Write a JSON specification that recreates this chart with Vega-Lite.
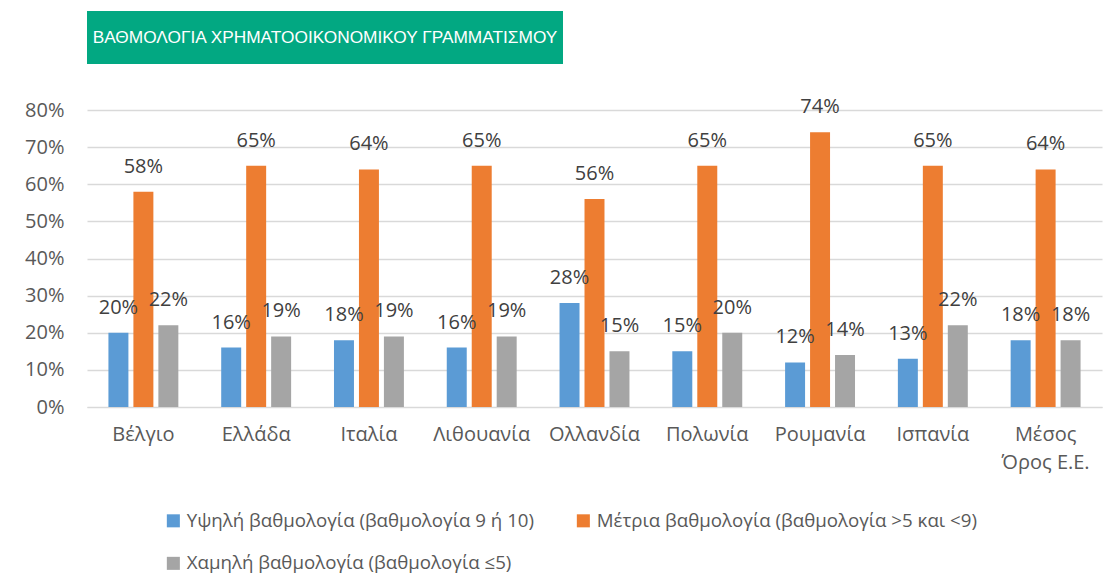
{
  "$schema": "https://vega.github.io/schema/vega-lite/v6.json",
  "background": "white",
  "padding": {"left": 24, "top": 11, "right": 10, "bottom": 5},
  "config": {"view": {"stroke": null}, "font": "Open Sans"},
  "bounds": "flush",
  "spacing": 46,
  "vconcat": [
    {
      "width": 476,
      "height": 53,
      "view": {"fill": "#02a882", "stroke": null},
      "data": {"values": [{"t": "ΒΑΘΜΟΛΟΓΙΑ ΧΡΗΜΑΤΟΟΙΚΟΝΟΜΙΚΟΥ ΓΡΑΜΜΑΤΙΣΜΟΥ"}]},
      "mark": {"type": "text", "color": "white", "fontSize": 17.3, "font": "Liberation Sans", "align": "center", "baseline": "middle"},
      "encoding": {"text": {"field": "t", "type": "nominal"}}
    },
    {
      "width": 1015,
      "height": 297,
      "data": {
        "values": [
          {"country": "Βέλγιο", "cat": "Υψηλή βαθμολογία (βαθμολογία 9 ή 10)", "value": 0.20},
          {"country": "Βέλγιο", "cat": "Μέτρια βαθμολογία (βαθμολογία >5 και <9)", "value": 0.58},
          {"country": "Βέλγιο", "cat": "Χαμηλή βαθμολογία (βαθμολογία ≤5)", "value": 0.22},
          {"country": "Ελλάδα", "cat": "Υψηλή βαθμολογία (βαθμολογία 9 ή 10)", "value": 0.16},
          {"country": "Ελλάδα", "cat": "Μέτρια βαθμολογία (βαθμολογία >5 και <9)", "value": 0.65},
          {"country": "Ελλάδα", "cat": "Χαμηλή βαθμολογία (βαθμολογία ≤5)", "value": 0.19},
          {"country": "Ιταλία", "cat": "Υψηλή βαθμολογία (βαθμολογία 9 ή 10)", "value": 0.18},
          {"country": "Ιταλία", "cat": "Μέτρια βαθμολογία (βαθμολογία >5 και <9)", "value": 0.64},
          {"country": "Ιταλία", "cat": "Χαμηλή βαθμολογία (βαθμολογία ≤5)", "value": 0.19},
          {"country": "Λιθουανία", "cat": "Υψηλή βαθμολογία (βαθμολογία 9 ή 10)", "value": 0.16},
          {"country": "Λιθουανία", "cat": "Μέτρια βαθμολογία (βαθμολογία >5 και <9)", "value": 0.65},
          {"country": "Λιθουανία", "cat": "Χαμηλή βαθμολογία (βαθμολογία ≤5)", "value": 0.19},
          {"country": "Ολλανδία", "cat": "Υψηλή βαθμολογία (βαθμολογία 9 ή 10)", "value": 0.28},
          {"country": "Ολλανδία", "cat": "Μέτρια βαθμολογία (βαθμολογία >5 και <9)", "value": 0.56},
          {"country": "Ολλανδία", "cat": "Χαμηλή βαθμολογία (βαθμολογία ≤5)", "value": 0.15},
          {"country": "Πολωνία", "cat": "Υψηλή βαθμολογία (βαθμολογία 9 ή 10)", "value": 0.15},
          {"country": "Πολωνία", "cat": "Μέτρια βαθμολογία (βαθμολογία >5 και <9)", "value": 0.65},
          {"country": "Πολωνία", "cat": "Χαμηλή βαθμολογία (βαθμολογία ≤5)", "value": 0.20},
          {"country": "Ρουμανία", "cat": "Υψηλή βαθμολογία (βαθμολογία 9 ή 10)", "value": 0.12},
          {"country": "Ρουμανία", "cat": "Μέτρια βαθμολογία (βαθμολογία >5 και <9)", "value": 0.74},
          {"country": "Ρουμανία", "cat": "Χαμηλή βαθμολογία (βαθμολογία ≤5)", "value": 0.14},
          {"country": "Ισπανία", "cat": "Υψηλή βαθμολογία (βαθμολογία 9 ή 10)", "value": 0.13},
          {"country": "Ισπανία", "cat": "Μέτρια βαθμολογία (βαθμολογία >5 και <9)", "value": 0.65},
          {"country": "Ισπανία", "cat": "Χαμηλή βαθμολογία (βαθμολογία ≤5)", "value": 0.22},
          {"country": "Μέσος Όρος Ε.Ε.", "cat": "Υψηλή βαθμολογία (βαθμολογία 9 ή 10)", "value": 0.18},
          {"country": "Μέσος Όρος Ε.Ε.", "cat": "Μέτρια βαθμολογία (βαθμολογία >5 και <9)", "value": 0.64},
          {"country": "Μέσος Όρος Ε.Ε.", "cat": "Χαμηλή βαθμολογία (βαθμολογία ≤5)", "value": 0.18}
        ]
      },
      "encoding": {
        "x": {
          "field": "country", "type": "nominal", "sort": null,
          "scale": {"paddingInner": 0.38, "paddingOuter": 0.19},
          "axis": {
            "title": null, "labelAngle": 0, "ticks": false, "domain": true, "domainColor": "#d9d9d9",
            "labelFontSize": 20, "labelColor": "#595959", "labelPadding": 17, "labelLineHeight": 28,
            "labelExpr": "datum.value == 'Μέσος Όρος Ε.Ε.' ? ['Μέσος', 'Όρος Ε.Ε.'] : datum.value"
          }
        },
        "xOffset": {
          "field": "cat", "type": "nominal",
          "sort": ["Υψηλή βαθμολογία (βαθμολογία 9 ή 10)", "Μέτρια βαθμολογία (βαθμολογία >5 και <9)", "Χαμηλή βαθμολογία (βαθμολογία ≤5)"],
          "scale": {"paddingInner": 0.2, "paddingOuter": 0}
        },
        "y": {
          "field": "value", "type": "quantitative",
          "scale": {"domain": [0, 0.8], "nice": false},
          "axis": {
            "title": null, "format": ".0%", "values": [0, 0.1, 0.2, 0.3, 0.4, 0.5, 0.6, 0.7, 0.8],
            "ticks": false, "domain": false, "gridColor": "#d9d9d9", "gridWidth": 1.5,
            "labelFontSize": 20, "labelColor": "#595959", "labelPadding": 23
          }
        }
      },
      "layer": [
        {
          "mark": {"type": "bar"},
          "encoding": {
            "color": {
              "field": "cat", "type": "nominal",
              "sort": ["Υψηλή βαθμολογία (βαθμολογία 9 ή 10)", "Μέτρια βαθμολογία (βαθμολογία >5 και <9)", "Χαμηλή βαθμολογία (βαθμολογία ≤5)"],
              "scale": {"range": ["#5b9bd5", "#ed7d31", "#a5a5a5"]},
              "legend": {
                "title": null, "orient": "none", "legendX": 77, "legendY": 500,
                "direction": "horizontal", "columns": 2, "columnPadding": 39, "rowPadding": 23,
                "symbolType": "square", "symbolSize": 170, "symbolStrokeWidth": 0, "symbolOffset": 0,
                "labelFontSize": 18.7, "labelColor": "#595959", "labelLimit": 600, "labelOffset": 4
              }
            }
          }
        },
        {
          "mark": {"type": "text", "baseline": "alphabetic", "dy": -19, "fontSize": 20, "color": "#404040"},
          "encoding": {"text": {"field": "value", "type": "quantitative", "format": ".0%"}}
        }
      ]
    }
  ]
}
